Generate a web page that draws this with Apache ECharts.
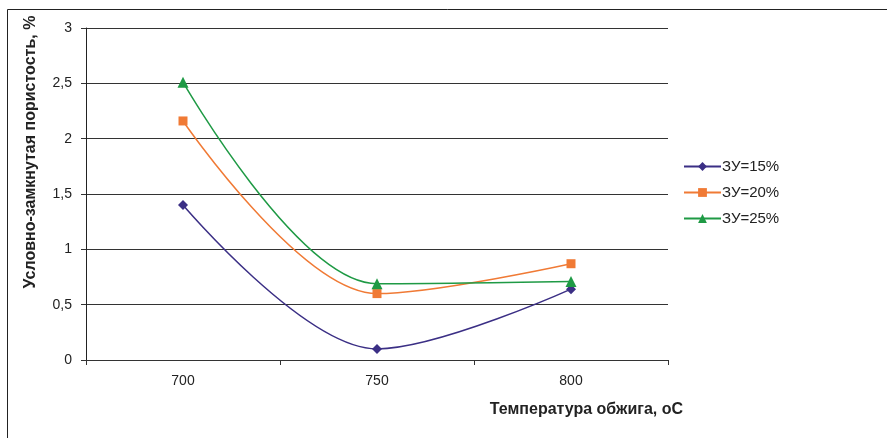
<!DOCTYPE html>
<html>
<head>
<meta charset="utf-8">
<script src="https://cdn.jsdelivr.net/npm/echarts@6/dist/echarts.min.js"></script>
<style>
html,body{margin:0;padding:0;background:#fff;}
#c{width:887px;height:438px;}
</style>
</head>
<body>
<div id="c"></div>
<script>
const categories = ['700', '750', '800'];
const seriesNames = ['ЗУ=15%', 'ЗУ=20%', 'ЗУ=25%'];
const zu15 = [1.40, 0.10, 0.64];
const zu20 = [2.16, 0.60, 0.87];
const zu25 = [2.51, 0.69, 0.71];
const yTicks = [0, 0.5, 1, 1.5, 2, 2.5, 3];
const xTitle = 'Температура обжига, оС';
const yTitle = 'Условно-замкнутая пористость, %';

const FONT = '"Liberation Sans", Arial, sans-serif';
const chart = echarts.init(document.getElementById('c'), null, {renderer: 'canvas'});

function mk(name, data, color, symbol, size) {
  return {
    name: name, type: 'line', data: data, smooth: 0.34, smoothConstraint: false,
    symbol: symbol, symbolSize: size, showSymbol: true,
    lineStyle: {color: color, width: 1.5},
    itemStyle: {color: color},
    emphasis: {disabled: true}
  };
}

chart.setOption({
  animation: false,
  backgroundColor: '#fff',
  graphic: [{
    type: 'polyline', silent: true,
    shape: {points: [[7.5, 440], [7.5, 9.5], [890, 9.5]]},
    style: {stroke: '#222', lineWidth: 1, fill: null}
  }, {
    type: 'text', silent: true, x: 31, y: 152, rotation: Math.PI / 2,
    style: {text: yTitle, font: 'bold 16px ' + FONT, fill: '#222', align: 'center', verticalAlign: 'middle'}
  }, {
    type: 'text', silent: true, x: 683, y: 410,
    style: {text: xTitle, font: 'bold 16px ' + FONT, fill: '#222', align: 'right', verticalAlign: 'middle'}
  }],
  grid: {left: 86, top: 28, right: 219, bottom: 78, containLabel: false},
  legend: {
    orient: 'vertical', left: 683, top: 159, padding: 0,
    itemWidth: 37, itemHeight: 11, itemGap: 11,
    data: seriesNames,
    textStyle: {fontFamily: FONT, fontSize: 15, color: '#222', padding: [0, 0, 0, -4]}
  },
  xAxis: {
    type: 'category', data: categories, boundaryGap: true,
    axisLine: {show: true, lineStyle: {color: '#333', width: 1}},
    axisTick: {show: true, alignWithLabel: false, length: 5, lineStyle: {color: '#333'}},
    axisLabel: {fontFamily: FONT, fontSize: 14, color: '#222', margin: 14},
    splitLine: {show: false}
  },
  yAxis: {
    type: 'value', min: 0, max: 3, interval: 0.5,
    axisLine: {show: true, lineStyle: {color: '#222', width: 1}},
    axisTick: {show: true, length: 5, lineStyle: {color: '#333'}},
    axisLabel: {fontFamily: FONT, fontSize: 14, color: '#222', margin: 14,
      formatter: function (v) { return String(v).replace('.', ','); }},
    splitLine: {show: true, lineStyle: {color: '#333', width: 1}}
  },
  series: [
    mk(seriesNames[0], zu15, '#3b2f85', 'diamond', 10),
    mk(seriesNames[1], zu20, '#f07a35', 'rect', 9),
    mk(seriesNames[2], zu25, '#1f9a45', 'triangle', 11)
  ]
});
</script>
</body>
</html>
